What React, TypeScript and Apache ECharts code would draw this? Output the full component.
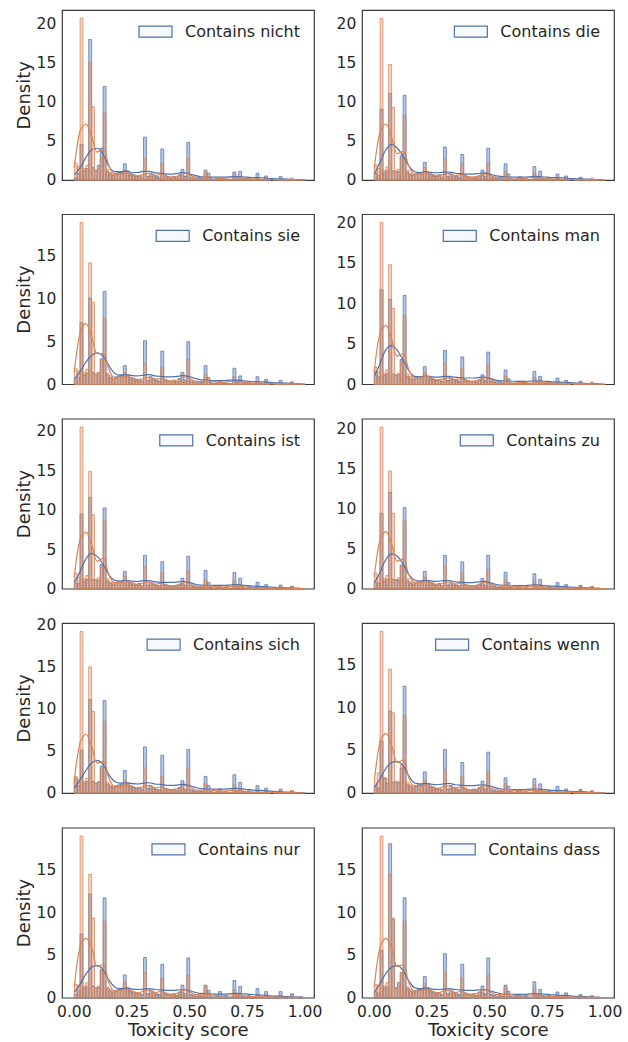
import React, { useEffect, useRef } from "react";
import * as echarts from "echarts";

// ---------- data ----------
const BIN_WIDTH = 0.0125; // 80 histogram bins over [0, 1]
const KDE_X = [
  0, 0.025, 0.05, 0.075, 0.1, 0.125, 0.15, 0.175, 0.2, 0.225,
  0.25, 0.275, 0.3, 0.325, 0.35, 0.375, 0.4, 0.425, 0.45, 0.475,
  0.5, 0.525, 0.55, 0.575, 0.6, 0.625, 0.65, 0.675, 0.7, 0.725,
  0.75, 0.775, 0.8, 0.825, 0.85, 0.875, 0.9, 0.925, 0.95, 0.975, 1.0,
];
const X_TICKS = [0, 0.25, 0.5, 0.75, 1.0];
const Y_TICKS = [0, 5, 10, 15, 20];
const WORDS = ["nicht", "die", "sie", "man", "ist", "zu", "sich", "wenn", "nur", "dass"];

const BLUE_NICHT = [
  0.3, 0.9, 4.6, 1.2, 1.5, 18.0, 1.6, 1.3, 1.9, 4.1,
  12.0, 1.1, 0.8, 0.6, 0.9, 1.0, 1.0, 2.1, 1.2, 0.8,
  0.7, 0.5, 0.6, 0.4, 5.5, 0.5, 0.9, 0.7, 0.5, 0.4,
  4.0, 0.6, 0.4, 0.3, 0.5, 0.3, 0.7, 1.4, 0.5, 4.85,
  0.4, 0.3, 0.2, 0.3, 0.2, 1.3, 0.9, 0.2, 0.1, 0.2,
  0.3, 0.1, 0.2, 0.1, 0.1, 1.06, 0.3, 1.15, 0.2, 0.1,
  0.3, 0.1, 0.1, 0.9, 0.1, 0.1, 0.55, 0.1, 0, 0.1,
  0.1, 0.47, 0, 0.1, 0, 0.1, 0, 0.1, 0, 0,
];
const ORANGE_NICHT = [
  2.2, 1.8, 20.7, 1.5, 1.9, 15.1, 9.4, 1.2, 1.5, 3.0,
  8.6, 1.4, 1.0, 0.8, 0.7, 0.9, 0.8, 1.3, 0.9, 0.6,
  0.5, 0.4, 0.5, 0.3, 2.8, 0.4, 0.5, 0.6, 0.3, 0.3,
  2.1, 0.4, 0.3, 0.3, 0.3, 0.2, 0.4, 0.6, 0.3, 2.8,
  0.3, 0.2, 0.1, 0.2, 0.1, 1.0, 0.3, 0.1, 0.1, 0.1,
  0.1, 0.1, 0.1, 0.1, 0.1, 0.8, 0.2, 0.5, 0.1, 0.1,
  0.1, 0.1, 0.1, 0.3, 0.1, 0.1, 0.2, 0.1, 0, 0.1,
  0.1, 0.2, 0.1, 0.1, 0.1, 0.3, 0.1, 0.1, 0, 0,
];
const BLUE_DIE = [
  0.9, 0.6, 9.1, 1.0, 1.2, 11.1, 1.2, 1.1, 1.1, 3.2,
  10.85, 1.0, 0.7, 0.6, 0.8, 0.9, 1.0, 2.3, 1.0, 0.8,
  0.6, 0.5, 0.7, 0.4, 4.25, 0.5, 0.8, 0.6, 0.5, 0.4,
  3.3, 0.6, 0.4, 0.3, 0.4, 0.3, 0.6, 1.3, 0.5, 4.1,
  0.4, 0.3, 0.2, 0.3, 0.2, 2.1, 0.8, 0.2, 0.1, 0.2,
  0.45, 0.1, 0.2, 0.1, 0.1, 1.75, 0.3, 1.15, 0.2, 0.1,
  0.3, 0.1, 0.1, 0.8, 0.1, 0.1, 0.55, 0.1, 0, 0.1,
  0.1, 0.35, 0, 0.1, 0, 0.1, 0, 0.1, 0, 0,
];
const ORANGE_DIE = [
  2.0, 1.5, 20.7, 1.3, 1.7, 14.8, 9.3, 1.2, 1.4, 2.9,
  8.3, 1.3, 0.9, 0.8, 0.7, 0.9, 0.8, 1.6, 0.9, 0.6,
  0.5, 0.4, 0.5, 0.3, 2.7, 0.4, 0.5, 0.6, 0.3, 0.3,
  2.1, 0.4, 0.3, 0.3, 0.3, 0.2, 0.4, 0.6, 0.3, 2.2,
  0.3, 0.2, 0.1, 0.2, 0.1, 1.1, 0.3, 0.1, 0.1, 0.1,
  0.1, 0.1, 0.1, 0.1, 0.1, 1.0, 0.2, 0.5, 0.1, 0.1,
  0.1, 0.1, 0.1, 0.3, 0.1, 0.1, 0.2, 0.1, 0, 0.1,
  0.1, 0.4, 0.1, 0.1, 0.1, 0.3, 0.1, 0.1, 0, 0,
];
const BLUE_SIE = [
  0.5, 0.8, 7.2, 1.1, 1.3, 10.1, 1.4, 1.2, 1.4, 3.0,
  10.85, 1.1, 0.8, 0.6, 0.9, 1.0, 1.1, 2.2, 1.1, 0.8,
  0.7, 0.5, 0.6, 0.4, 5.1, 0.5, 0.9, 0.7, 0.5, 0.4,
  3.9, 0.6, 0.4, 0.3, 0.5, 0.3, 0.7, 1.4, 0.5, 5.0,
  0.4, 0.3, 0.2, 0.3, 0.2, 2.2, 0.8, 0.2, 0.1, 0.2,
  0.4, 0.1, 0.2, 0.1, 0.1, 1.9, 0.3, 1.0, 0.2, 0.1,
  0.3, 0.1, 0.1, 0.9, 0.1, 0.1, 0.6, 0.1, 0, 0.1,
  0.1, 0.5, 0, 0.1, 0, 0.3, 0, 0.1, 0, 0,
];
const ORANGE_SIE = [
  1.9, 1.6, 18.9, 1.4, 1.8, 14.2, 9.6, 1.2, 1.4, 2.8,
  7.7, 1.3, 1.0, 0.8, 0.7, 0.9, 0.8, 1.4, 0.9, 0.6,
  0.5, 0.4, 0.5, 0.3, 2.5, 0.4, 0.5, 0.6, 0.3, 0.3,
  2.0, 0.4, 0.3, 0.3, 0.3, 0.2, 0.4, 0.6, 0.3, 2.9,
  0.3, 0.2, 0.1, 0.2, 0.1, 1.1, 0.3, 0.1, 0.1, 0.1,
  0.1, 0.1, 0.1, 0.1, 0.1, 0.9, 0.2, 0.5, 0.1, 0.1,
  0.1, 0.1, 0.1, 0.3, 0.1, 0.1, 0.2, 0.1, 0, 0.1,
  0.1, 0.2, 0.1, 0.1, 0.1, 0.3, 0.1, 0.1, 0, 0,
];
const BLUE_MAN = [
  1.6, 1.0, 11.7, 1.1, 1.3, 10.5, 1.3, 1.1, 1.2, 3.1,
  11.0, 1.0, 0.7, 0.6, 0.8, 0.9, 1.0, 2.2, 1.0, 0.8,
  0.6, 0.5, 0.6, 0.4, 4.2, 0.5, 0.8, 0.6, 0.5, 0.4,
  3.4, 0.6, 0.4, 0.3, 0.4, 0.3, 0.6, 1.2, 0.5, 4.0,
  0.4, 0.3, 0.2, 0.3, 0.2, 1.8, 0.7, 0.2, 0.1, 0.2,
  0.4, 0.1, 0.2, 0.1, 0.1, 1.6, 0.3, 1.0, 0.2, 0.1,
  0.3, 0.1, 0.1, 0.8, 0.1, 0.1, 0.5, 0.1, 0, 0.1,
  0.1, 0.4, 0, 0.1, 0, 0.2, 0, 0.1, 0, 0,
];
const ORANGE_MAN = [
  2.1, 1.6, 20.0, 1.4, 1.8, 14.8, 9.4, 1.2, 1.4, 2.9,
  8.5, 1.3, 1.0, 0.8, 0.7, 0.9, 0.8, 1.5, 0.9, 0.6,
  0.5, 0.4, 0.5, 0.3, 2.6, 0.4, 0.5, 0.6, 0.3, 0.3,
  2.0, 0.4, 0.3, 0.3, 0.3, 0.2, 0.4, 0.6, 0.3, 2.4,
  0.3, 0.2, 0.1, 0.2, 0.1, 1.0, 0.3, 0.1, 0.1, 0.1,
  0.1, 0.1, 0.1, 0.1, 0.1, 0.9, 0.2, 0.5, 0.1, 0.1,
  0.1, 0.1, 0.1, 0.3, 0.1, 0.1, 0.2, 0.1, 0, 0.1,
  0.1, 0.3, 0.1, 0.1, 0.1, 0.3, 0.1, 0.1, 0, 0,
];
const BLUE_IST = [
  0.7, 0.7, 9.5, 1.0, 1.2, 11.6, 1.2, 1.1, 1.1, 3.1,
  10.25, 1.0, 0.7, 0.6, 0.8, 0.9, 1.0, 2.2, 1.0, 0.8,
  0.6, 0.5, 0.7, 0.4, 4.25, 0.5, 0.8, 0.6, 0.5, 0.4,
  3.45, 0.6, 0.4, 0.3, 0.4, 0.3, 0.6, 1.35, 0.5, 4.15,
  0.4, 0.3, 0.2, 0.3, 0.2, 2.35, 0.8, 0.2, 0.1, 0.2,
  0.45, 0.1, 0.2, 0.1, 0.1, 2.1, 0.3, 1.35, 0.2, 0.1,
  0.3, 0.1, 0.1, 0.85, 0.1, 0.1, 0.55, 0.1, 0, 0.1,
  0.1, 0.5, 0, 0.1, 0, 0.35, 0, 0.1, 0, 0,
];
const ORANGE_IST = [
  2.0, 1.5, 20.5, 1.3, 1.7, 14.9, 9.4, 1.2, 1.4, 3.0,
  8.7, 1.3, 0.9, 0.8, 0.7, 0.9, 0.8, 1.6, 0.9, 0.6,
  0.5, 0.4, 0.5, 0.3, 2.8, 0.4, 0.5, 0.6, 0.3, 0.3,
  2.0, 0.4, 0.3, 0.3, 0.3, 0.2, 0.4, 0.6, 0.3, 2.3,
  0.3, 0.2, 0.1, 0.2, 0.1, 1.1, 0.3, 0.1, 0.1, 0.1,
  0.1, 0.1, 0.1, 0.1, 0.1, 1.1, 0.2, 0.5, 0.1, 0.1,
  0.1, 0.1, 0.1, 0.3, 0.1, 0.1, 0.2, 0.1, 0, 0.1,
  0.1, 0.3, 0.1, 0.1, 0.1, 0.3, 0.1, 0.1, 0, 0,
];
const BLUE_ZU = [
  0.8, 0.7, 9.5, 1.0, 1.2, 12.1, 1.2, 1.1, 1.1, 3.0,
  10.2, 1.0, 0.7, 0.6, 0.8, 0.9, 1.0, 2.2, 1.0, 0.8,
  0.6, 0.5, 0.7, 0.4, 4.2, 0.5, 0.8, 0.6, 0.5, 0.4,
  3.4, 0.6, 0.4, 0.3, 0.4, 0.3, 0.6, 1.3, 0.5, 4.2,
  0.4, 0.3, 0.2, 0.3, 0.2, 2.1, 0.8, 0.2, 0.1, 0.2,
  0.45, 0.1, 0.2, 0.1, 0.1, 1.9, 0.3, 1.2, 0.2, 0.1,
  0.3, 0.1, 0.1, 0.8, 0.1, 0.1, 0.55, 0.1, 0, 0.1,
  0.1, 0.45, 0, 0.1, 0, 0.3, 0, 0.1, 0, 0,
];
const ORANGE_ZU = [
  2.0, 1.5, 20.3, 1.3, 1.7, 14.8, 9.5, 1.2, 1.4, 2.9,
  8.6, 1.3, 0.9, 0.8, 0.7, 0.9, 0.8, 1.5, 0.9, 0.6,
  0.5, 0.4, 0.5, 0.3, 2.8, 0.4, 0.5, 0.6, 0.3, 0.3,
  2.0, 0.4, 0.3, 0.3, 0.3, 0.2, 0.4, 0.6, 0.3, 2.4,
  0.3, 0.2, 0.1, 0.2, 0.1, 1.1, 0.3, 0.1, 0.1, 0.1,
  0.1, 0.1, 0.1, 0.1, 0.1, 1.0, 0.2, 0.5, 0.1, 0.1,
  0.1, 0.1, 0.1, 0.3, 0.1, 0.1, 0.2, 0.1, 0, 0.1,
  0.1, 0.3, 0.1, 0.1, 0.1, 0.3, 0.1, 0.1, 0, 0,
];
const BLUE_SICH = [
  1.8, 0.9, 5.1, 1.2, 1.4, 11.1, 1.4, 1.2, 1.3, 3.2,
  11.0, 1.1, 0.8, 0.7, 0.9, 1.0, 1.1, 2.7, 1.2, 0.9,
  0.7, 0.6, 0.7, 0.5, 5.5, 0.6, 0.9, 0.7, 0.5, 0.4,
  4.5, 0.6, 0.5, 0.4, 0.5, 0.3, 0.7, 1.5, 0.5, 5.2,
  0.4, 0.3, 0.2, 0.3, 0.2, 2.0, 0.9, 0.2, 0.1, 0.2,
  0.5, 0.1, 0.2, 0.1, 0.1, 2.2, 0.3, 1.3, 0.2, 0.1,
  0.3, 0.1, 0.1, 0.9, 0.1, 0.1, 0.6, 0.1, 0, 0.1,
  0.1, 0.5, 0, 0.1, 0, 0.3, 0, 0.1, 0, 0,
];
const ORANGE_SICH = [
  2.0, 1.6, 19.2, 1.4, 1.8, 15.0, 9.7, 1.2, 1.4, 2.9,
  8.5, 1.3, 1.0, 0.8, 0.7, 0.9, 0.8, 1.5, 0.9, 0.6,
  0.5, 0.4, 0.5, 0.3, 3.0, 0.4, 0.5, 0.6, 0.3, 0.3,
  2.0, 0.4, 0.3, 0.3, 0.3, 0.2, 0.4, 0.6, 0.3, 3.0,
  0.3, 0.2, 0.1, 0.2, 0.1, 1.1, 0.3, 0.1, 0.1, 0.1,
  0.1, 0.1, 0.1, 0.1, 0.1, 1.0, 0.2, 0.5, 0.1, 0.1,
  0.1, 0.1, 0.1, 0.3, 0.1, 0.1, 0.2, 0.1, 0, 0.1,
  0.1, 0.3, 0.1, 0.1, 0.1, 0.3, 0.1, 0.1, 0, 0,
];
const BLUE_WENN = [
  0.9, 0.6, 6.1, 1.8, 1.2, 9.6, 1.3, 1.35, 1.2, 2.95,
  12.5, 1.0, 0.8, 0.6, 0.9, 1.0, 1.0, 2.5, 1.1, 0.8,
  0.7, 0.5, 0.6, 0.4, 5.1, 0.5, 0.9, 0.7, 0.5, 0.4,
  3.6, 0.6, 0.4, 0.3, 0.5, 0.3, 0.7, 1.4, 0.5, 4.8,
  0.4, 0.3, 0.2, 0.3, 0.2, 1.8, 0.8, 0.2, 0.1, 0.2,
  0.4, 0.1, 0.2, 0.1, 0.1, 1.7, 0.3, 1.1, 0.2, 0.1,
  0.3, 0.1, 0.1, 0.8, 0.1, 0.1, 0.5, 0.1, 0, 0.1,
  0.1, 0.45, 0, 0.1, 0, 0.25, 0, 0.1, 0, 0,
];
const ORANGE_WENN = [
  1.2, 2.4, 18.9, 1.8, 1.7, 14.5, 9.4, 1.2, 1.4, 3.3,
  9.05, 1.3, 1.0, 0.8, 0.7, 0.9, 0.8, 1.5, 0.9, 0.6,
  0.5, 0.4, 0.5, 0.3, 2.8, 0.4, 0.5, 0.6, 0.3, 0.3,
  2.0, 0.4, 0.3, 0.3, 0.3, 0.2, 0.4, 0.6, 0.3, 2.5,
  0.3, 0.2, 0.1, 0.2, 0.1, 1.1, 0.3, 0.1, 0.1, 0.1,
  0.1, 0.1, 0.1, 0.1, 0.1, 1.0, 0.2, 0.5, 0.1, 0.1,
  0.1, 0.1, 0.1, 0.3, 0.1, 0.1, 0.2, 0.1, 0, 0.1,
  0.1, 0.3, 0.1, 0.1, 0.1, 0.3, 0.1, 0.1, 0, 0,
];
const BLUE_NUR = [
  0.4, 0.9, 7.5, 1.2, 1.3, 12.2, 1.4, 1.2, 1.2, 3.3,
  11.75, 1.1, 0.8, 0.6, 0.9, 1.0, 1.0, 2.7, 1.2, 0.8,
  0.7, 0.5, 0.6, 0.4, 4.75, 0.5, 0.9, 0.7, 0.5, 0.4,
  3.95, 0.6, 0.4, 0.3, 0.5, 0.3, 0.7, 1.5, 0.5, 4.7,
  0.4, 0.3, 0.2, 0.3, 0.2, 1.5, 0.9, 0.2, 0.1, 0.2,
  0.75, 0.1, 0.2, 0.1, 0.1, 2.05, 0.3, 1.35, 0.2, 0.1,
  0.3, 0.1, 0.1, 1.1, 0.1, 0.1, 0.75, 0.1, 0, 0.1,
  0.1, 0.75, 0, 0.1, 0, 0.5, 0, 0.1, 0.15, 0,
];
const ORANGE_NUR = [
  1.6, 1.5, 19.0, 1.4, 1.8, 14.5, 9.4, 1.2, 1.4, 3.3,
  9.0, 1.3, 1.0, 0.8, 0.7, 0.9, 0.8, 1.8, 0.9, 0.6,
  0.5, 0.4, 0.5, 0.3, 3.0, 0.4, 0.5, 0.6, 0.3, 0.3,
  2.35, 0.4, 0.3, 0.3, 0.3, 0.2, 0.4, 0.6, 0.3, 2.65,
  0.3, 0.2, 0.1, 0.2, 0.1, 1.3, 0.3, 0.1, 0.1, 0.1,
  0.1, 0.1, 0.1, 0.1, 0.1, 1.0, 0.2, 0.5, 0.1, 0.1,
  0.1, 0.1, 0.1, 0.3, 0.1, 0.1, 0.2, 0.1, 0, 0.1,
  0.1, 0.3, 0.1, 0.1, 0.1, 0.3, 0.1, 0.1, 0, 0,
];
const BLUE_DASS = [
  0.7, 0.5, 5.6, 1.2, 1.3, 18.1, 9.2, 1.2, 1.8, 3.0,
  11.75, 1.1, 0.8, 0.7, 0.9, 1.0, 1.0, 2.5, 1.2, 0.8,
  0.7, 0.5, 0.6, 0.4, 5.2, 0.5, 0.9, 0.7, 0.5, 0.4,
  3.95, 0.6, 0.4, 0.3, 0.5, 0.3, 0.7, 1.4, 0.5, 4.7,
  0.4, 0.3, 0.2, 0.3, 0.2, 1.5, 0.8, 0.2, 0.1, 0.2,
  0.4, 0.1, 0.2, 0.1, 0.1, 1.9, 0.3, 1.0, 0.2, 0.1,
  0.3, 0.1, 0.1, 0.7, 0.1, 0.1, 0.6, 0.1, 0, 0.1,
  0.1, 0.4, 0, 0.1, 0, 0.2, 0, 0.1, 0, 0,
];
const ORANGE_DASS = [
  1.6, 1.5, 19.0, 1.4, 1.8, 14.5, 9.4, 1.2, 1.4, 3.0,
  9.0, 1.3, 1.0, 0.8, 0.7, 0.9, 0.8, 1.7, 0.9, 0.6,
  0.5, 0.4, 0.5, 0.3, 3.0, 0.4, 0.5, 0.6, 0.3, 0.3,
  2.3, 0.4, 0.3, 0.3, 0.3, 0.2, 0.4, 0.6, 0.3, 2.65,
  0.3, 0.2, 0.1, 0.2, 0.1, 1.3, 0.3, 0.1, 0.1, 0.1,
  0.1, 0.1, 0.1, 0.1, 0.1, 1.0, 0.2, 0.5, 0.1, 0.1,
  0.1, 0.1, 0.1, 0.3, 0.1, 0.1, 0.2, 0.1, 0, 0.1,
  0.1, 0.3, 0.1, 0.1, 0.1, 0.3, 0.1, 0.1, 0, 0,
];

// KDE curves on KDE_X
const KDE_BLUE_NICHT = [0.7, 1.6, 2.9, 3.9, 4.1, 3.3, 1.8, 1.1, 1.1, 1.2, 1.0, 1.0, 1.15, 1.15, 0.95, 0.9, 0.8, 0.8, 0.9, 1.0, 0.8, 0.6, 0.45, 0.4, 0.4, 0.4, 0.4, 0.45, 0.47, 0.45, 0.4, 0.35, 0.33, 0.3, 0.22, 0.2, 0.18, 0.15, 0.1, 0.07, 0.04];
const KDE_BLUE_DIE = [0.8, 2.3, 3.9, 4.6, 4.1, 3.1, 1.8, 1.1, 1.0, 1.1, 1.0, 0.95, 1.05, 1.05, 0.9, 0.85, 0.8, 0.8, 0.85, 0.95, 0.8, 0.6, 0.5, 0.45, 0.4, 0.4, 0.4, 0.45, 0.5, 0.45, 0.4, 0.35, 0.32, 0.3, 0.22, 0.2, 0.17, 0.14, 0.1, 0.07, 0.04];
const KDE_BLUE_SIE = [0.6, 1.5, 2.6, 3.4, 3.7, 3.3, 2.2, 1.3, 1.1, 1.15, 1.05, 1.0, 1.1, 1.15, 1.0, 0.95, 0.9, 0.9, 0.95, 1.05, 0.9, 0.7, 0.55, 0.5, 0.45, 0.45, 0.45, 0.5, 0.5, 0.45, 0.4, 0.35, 0.32, 0.3, 0.25, 0.2, 0.18, 0.15, 0.1, 0.07, 0.04];
const KDE_BLUE_MAN = [1.0, 2.6, 4.3, 4.8, 4.2, 3.0, 1.7, 1.0, 0.95, 1.05, 0.95, 0.9, 1.0, 1.0, 0.9, 0.85, 0.8, 0.8, 0.85, 0.9, 0.75, 0.55, 0.45, 0.42, 0.4, 0.38, 0.38, 0.42, 0.45, 0.42, 0.38, 0.33, 0.3, 0.28, 0.22, 0.18, 0.15, 0.12, 0.09, 0.06, 0.03];
const KDE_BLUE_IST = [0.8, 2.2, 3.8, 4.5, 4.1, 3.1, 1.8, 1.1, 1.0, 1.1, 1.0, 0.95, 1.05, 1.05, 0.9, 0.85, 0.85, 0.85, 0.9, 0.95, 0.8, 0.6, 0.5, 0.45, 0.45, 0.45, 0.45, 0.5, 0.55, 0.5, 0.42, 0.36, 0.32, 0.3, 0.24, 0.2, 0.17, 0.14, 0.1, 0.07, 0.04];
const KDE_BLUE_ZU = [0.8, 2.1, 3.7, 4.4, 4.1, 3.1, 1.8, 1.1, 1.0, 1.1, 1.0, 0.95, 1.05, 1.05, 0.9, 0.85, 0.8, 0.8, 0.9, 0.95, 0.8, 0.6, 0.5, 0.45, 0.42, 0.42, 0.42, 0.48, 0.52, 0.46, 0.4, 0.35, 0.32, 0.3, 0.23, 0.2, 0.17, 0.14, 0.1, 0.07, 0.04];
const KDE_BLUE_SICH = [0.6, 1.6, 2.7, 3.6, 3.9, 3.4, 2.2, 1.4, 1.2, 1.25, 1.15, 1.1, 1.2, 1.25, 1.1, 1.05, 0.95, 0.95, 1.0, 1.05, 0.9, 0.7, 0.55, 0.5, 0.5, 0.5, 0.5, 0.55, 0.58, 0.52, 0.45, 0.38, 0.35, 0.32, 0.25, 0.2, 0.18, 0.15, 0.1, 0.07, 0.04];
const KDE_BLUE_WENN = [0.7, 1.7, 2.9, 3.6, 3.7, 3.2, 2.0, 1.2, 1.1, 1.15, 1.05, 1.0, 1.1, 1.15, 1.0, 0.95, 0.9, 0.9, 0.95, 1.0, 0.85, 0.65, 0.5, 0.45, 0.42, 0.42, 0.42, 0.48, 0.5, 0.45, 0.4, 0.35, 0.32, 0.3, 0.24, 0.2, 0.17, 0.14, 0.1, 0.07, 0.04];
const KDE_BLUE_NUR = [0.7, 1.6, 2.8, 3.6, 3.8, 3.3, 2.1, 1.3, 1.1, 1.15, 1.05, 1.0, 1.05, 1.1, 1.0, 0.95, 0.9, 0.9, 0.95, 1.0, 0.85, 0.65, 0.55, 0.5, 0.45, 0.45, 0.45, 0.5, 0.55, 0.5, 0.45, 0.4, 0.36, 0.32, 0.26, 0.22, 0.2, 0.16, 0.12, 0.08, 0.05];
const KDE_BLUE_DASS = [0.7, 1.7, 2.9, 3.6, 3.8, 3.2, 2.0, 1.2, 1.1, 1.15, 1.05, 1.0, 1.05, 1.1, 1.0, 0.95, 0.9, 0.9, 0.95, 1.0, 0.85, 0.65, 0.5, 0.45, 0.42, 0.42, 0.42, 0.48, 0.52, 0.47, 0.42, 0.36, 0.32, 0.3, 0.24, 0.2, 0.17, 0.14, 0.1, 0.07, 0.04];

const KDE_ORANGE_NICHT = [1.6, 6.3, 7.2, 5.6, 3.6, 4.0, 1.9, 0.8, 0.85, 1.0, 0.8, 0.55, 0.75, 0.9, 0.6, 0.75, 0.5, 0.4, 0.55, 0.9, 0.7, 0.4, 0.35, 0.45, 0.35, 0.25, 0.25, 0.35, 0.35, 0.3, 0.2, 0.15, 0.15, 0.13, 0.1, 0.1, 0.1, 0.08, 0.08, 0.05, 0.03];
const KDE_ORANGE_DIE = [1.5, 6.2, 7.2, 5.5, 3.4, 3.7, 1.8, 0.8, 0.85, 1.0, 0.8, 0.55, 0.75, 0.85, 0.6, 0.72, 0.5, 0.4, 0.5, 0.8, 0.65, 0.4, 0.35, 0.42, 0.35, 0.25, 0.25, 0.33, 0.35, 0.3, 0.2, 0.15, 0.15, 0.13, 0.1, 0.1, 0.1, 0.08, 0.08, 0.05, 0.03];
const KDE_ORANGE_SIE = [1.4, 6.0, 7.1, 5.6, 3.6, 3.6, 1.8, 0.8, 0.85, 1.0, 0.8, 0.55, 0.7, 0.85, 0.6, 0.7, 0.5, 0.4, 0.55, 0.9, 0.7, 0.4, 0.35, 0.45, 0.35, 0.25, 0.25, 0.35, 0.35, 0.3, 0.2, 0.15, 0.15, 0.13, 0.1, 0.1, 0.1, 0.08, 0.08, 0.05, 0.03];
const KDE_ORANGE_MAN = [1.6, 6.4, 7.3, 5.6, 3.5, 3.8, 1.8, 0.8, 0.85, 1.0, 0.8, 0.55, 0.72, 0.85, 0.6, 0.72, 0.5, 0.4, 0.52, 0.82, 0.66, 0.4, 0.35, 0.42, 0.35, 0.25, 0.25, 0.33, 0.35, 0.3, 0.2, 0.15, 0.15, 0.13, 0.1, 0.1, 0.1, 0.08, 0.08, 0.05, 0.03];
const KDE_ORANGE_IST = [1.5, 6.3, 7.2, 5.6, 3.5, 3.9, 1.8, 0.8, 0.85, 1.0, 0.8, 0.55, 0.75, 0.88, 0.6, 0.72, 0.5, 0.4, 0.52, 0.82, 0.66, 0.4, 0.35, 0.45, 0.35, 0.25, 0.25, 0.35, 0.36, 0.3, 0.2, 0.15, 0.15, 0.13, 0.1, 0.1, 0.1, 0.08, 0.08, 0.05, 0.03];
const KDE_ORANGE_ZU = [1.5, 6.2, 7.2, 5.6, 3.5, 3.8, 1.8, 0.8, 0.85, 1.0, 0.8, 0.55, 0.75, 0.88, 0.6, 0.72, 0.5, 0.4, 0.52, 0.84, 0.66, 0.4, 0.35, 0.45, 0.35, 0.25, 0.25, 0.35, 0.35, 0.3, 0.2, 0.15, 0.15, 0.13, 0.1, 0.1, 0.1, 0.08, 0.08, 0.05, 0.03];
const KDE_ORANGE_SICH = [1.4, 6.0, 7.0, 5.6, 3.6, 3.8, 1.8, 0.8, 0.85, 1.05, 0.85, 0.6, 0.8, 0.95, 0.62, 0.75, 0.5, 0.4, 0.58, 0.95, 0.72, 0.42, 0.36, 0.45, 0.35, 0.25, 0.25, 0.35, 0.36, 0.3, 0.2, 0.15, 0.15, 0.13, 0.1, 0.1, 0.1, 0.08, 0.08, 0.05, 0.03];
const KDE_ORANGE_WENN = [1.25, 6.0, 7.0, 5.6, 3.6, 3.9, 1.8, 0.8, 0.85, 1.0, 0.8, 0.55, 0.75, 0.9, 0.6, 0.72, 0.5, 0.4, 0.52, 0.85, 0.68, 0.4, 0.35, 0.45, 0.35, 0.25, 0.25, 0.35, 0.35, 0.3, 0.2, 0.15, 0.15, 0.13, 0.1, 0.1, 0.1, 0.08, 0.08, 0.05, 0.03];
const KDE_ORANGE_NUR = [1.3, 6.0, 7.0, 6.0, 3.7, 3.9, 1.8, 0.8, 0.9, 1.05, 0.85, 0.6, 0.8, 0.95, 0.62, 0.78, 0.52, 0.42, 0.58, 0.95, 0.72, 0.42, 0.36, 0.45, 0.35, 0.25, 0.25, 0.35, 0.36, 0.3, 0.2, 0.15, 0.15, 0.13, 0.1, 0.1, 0.1, 0.08, 0.08, 0.05, 0.03];
const KDE_ORANGE_DASS = [1.3, 6.0, 7.0, 5.9, 3.7, 3.9, 1.8, 0.8, 0.9, 1.05, 0.85, 0.6, 0.8, 0.95, 0.62, 0.78, 0.52, 0.42, 0.58, 0.95, 0.72, 0.42, 0.36, 0.45, 0.35, 0.25, 0.25, 0.35, 0.36, 0.3, 0.2, 0.15, 0.15, 0.13, 0.1, 0.1, 0.1, 0.08, 0.08, 0.05, 0.03];

const BLUE_HISTS = [BLUE_NICHT, BLUE_DIE, BLUE_SIE, BLUE_MAN, BLUE_IST, BLUE_ZU, BLUE_SICH, BLUE_WENN, BLUE_NUR, BLUE_DASS];
const ORANGE_HISTS = [ORANGE_NICHT, ORANGE_DIE, ORANGE_SIE, ORANGE_MAN, ORANGE_IST, ORANGE_ZU, ORANGE_SICH, ORANGE_WENN, ORANGE_NUR, ORANGE_DASS];
const BLUE_KDES = [KDE_BLUE_NICHT, KDE_BLUE_DIE, KDE_BLUE_SIE, KDE_BLUE_MAN, KDE_BLUE_IST, KDE_BLUE_ZU, KDE_BLUE_SICH, KDE_BLUE_WENN, KDE_BLUE_NUR, KDE_BLUE_DASS];
const ORANGE_KDES = [KDE_ORANGE_NICHT, KDE_ORANGE_DIE, KDE_ORANGE_SIE, KDE_ORANGE_MAN, KDE_ORANGE_IST, KDE_ORANGE_ZU, KDE_ORANGE_SICH, KDE_ORANGE_WENN, KDE_ORANGE_NUR, KDE_ORANGE_DASS];

// ---------- style ----------
const BLUE = "#4C72B0";
const ORANGE = "#DD8452";
const BLUE_FILL = "rgba(76,114,176,0.38)";
const ORANGE_FILL = "rgba(221,132,82,0.33)";
const TEXT = "#262626";
const FONT = "DejaVu Sans";

function histSeries(name: string, values: number[], idx: number, fill: string, stroke: string, z: number) {
  return {
    type: "custom",
    name,
    xAxisIndex: idx,
    yAxisIndex: idx,
    silent: true,
    z,
    itemStyle: { color: stroke },
    encode: { x: [0, 1], y: 2 },
    data: values
      .map((h, k) => [k * BIN_WIDTH, (k + 1) * BIN_WIDTH, h])
      .filter((d) => d[2] > 0),
    renderItem: (_p: any, api: any) => {
      const a = api.coord([api.value(0), api.value(2)]);
      const b = api.coord([api.value(1), 0]);
      return {
        type: "rect",
        shape: { x: a[0], y: a[1], width: b[0] - a[0], height: b[1] - a[1] },
        style: { fill, stroke, lineWidth: 0.75 },
      };
    },
  };
}

export default function App() {
  const ref = useRef<HTMLDivElement>(null);
  useEffect(() => {
    const chart = echarts.init(ref.current!, null, { renderer: "svg" });
    const tops = [10.3, 214.5, 419, 623.3, 828];
    const lefts = [62.3, 362.3];
    const grid: any[] = [];
    const xAxis: any[] = [];
    const yAxis: any[] = [];
    const series: any[] = [];
    const legend: any[] = [];
    const tickStyle = { fontSize: 15.5, fontFamily: FONT, color: TEXT };
    const nameStyle = { fontSize: 18, fontFamily: FONT, color: TEXT, lineHeight: 14 };
    const legendStyle = { fontSize: 16, fontFamily: FONT, color: TEXT, lineHeight: 16, padding: [0, 0, 0, 8] };

    WORDS.forEach((w, i) => {
      const row = Math.floor(i / 2);
      const col = i % 2;
      const blue = BLUE_HISTS[i];
      const orange = ORANGE_HISTS[i];
      const ymax = Math.max(...blue, ...orange) * 1.05;
      const name = `Contains ${w}`;
      grid.push({
        left: lefts[col],
        top: tops[row],
        width: 252,
        height: 170,
        show: true,
        borderColor: "#3a3a3a",
        borderWidth: 1.2,
        backgroundColor: "transparent",
      });
      xAxis.push({
        gridIndex: i,
        type: "value",
        min: -0.052,
        max: 1.04,
        axisLine: { show: false },
        axisTick: { show: false },
        splitLine: { show: false },
        axisLabel: {
          show: row === 4,
          customValues: X_TICKS,
          formatter: (v: number) => v.toFixed(2),
          margin: 7.5,
          lineHeight: 13,
          ...tickStyle,
        },
        name: row === 4 ? "Toxicity score" : "",
        nameLocation: "middle",
        nameGap: 22,
        nameTextStyle: nameStyle,
      });
      yAxis.push({
        gridIndex: i,
        type: "value",
        min: 0,
        max: ymax,
        axisLine: { show: false },
        axisTick: { show: false },
        splitLine: { show: false },
        axisLabel: {
          customValues: Y_TICKS.filter((t) => t <= ymax),
          margin: 6,
          ...tickStyle,
        },
        name: col === 0 ? "Density" : "",
        nameLocation: "middle",
        nameRotate: 90,
        nameGap: 30,
        nameTextStyle: nameStyle,
      });
      series.push(histSeries(name, blue, i, BLUE_FILL, BLUE, 2));
      series.push(histSeries(`other ${w}`, orange, i, ORANGE_FILL, ORANGE, 3));
      series.push({
        type: "line",
        xAxisIndex: i,
        yAxisIndex: i,
        data: KDE_X.map((x, k) => [x, BLUE_KDES[i][k]]),
        smooth: 0.35,
        symbol: "none",
        silent: true,
        z: 4,
        lineStyle: { color: BLUE, width: 1.2 },
      });
      series.push({
        type: "line",
        xAxisIndex: i,
        yAxisIndex: i,
        data: KDE_X.map((x, k) => [x, ORANGE_KDES[i][k]]),
        smooth: 0.35,
        symbol: "none",
        silent: true,
        z: 4,
        lineStyle: { color: ORANGE, width: 1.2 },
      });
      legend.push({
        data: [
          {
            name,
            icon: "rect",
            itemStyle: { color: "rgba(76,114,176,0.05)", borderColor: BLUE, borderWidth: 1.2 },
          },
        ],
        right: col === 0 ? 328 : 28,
        top: tops[row] + 13.3,
        itemWidth: 33,
        itemHeight: 11,
        padding: 0,
        selectedMode: false,
        textStyle: legendStyle,
      });
    });

    chart.setOption({
      animation: false,
      backgroundColor: "#ffffff",
      grid,
      xAxis,
      yAxis,
      series,
      legend,
    });
    return () => chart.dispose();
  }, []);

  return (
    <div
      ref={ref}
      style={{ position: "fixed", left: 0, top: 0, width: 628, height: 1042 }}
    />
  );
}
